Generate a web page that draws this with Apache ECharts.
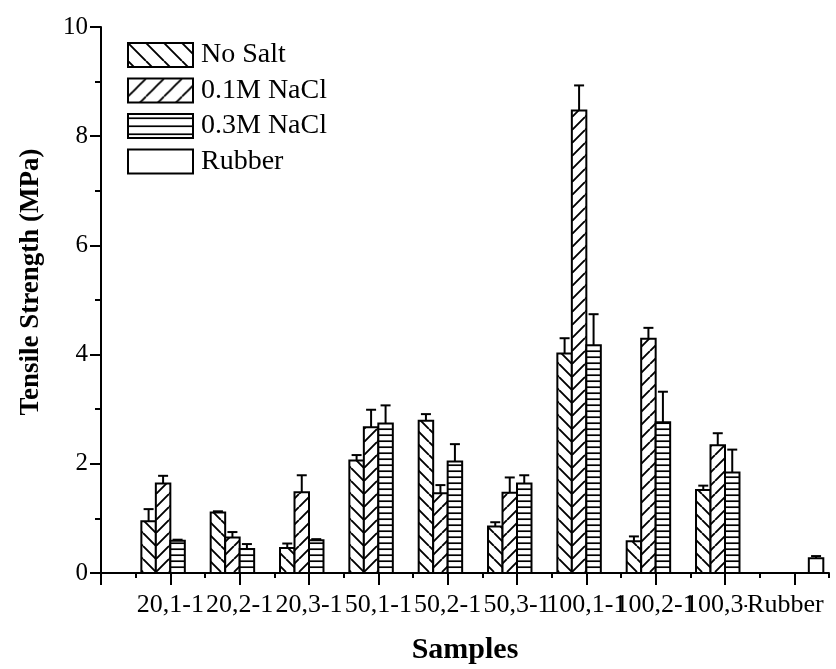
<!DOCTYPE html>
<html>
<head>
<meta charset="utf-8">
<script src="https://cdn.jsdelivr.net/npm/echarts@6/dist/echarts.min.js"></script>
<style>
  html, body { margin: 0; padding: 0; background: #fff; }
  #chart { width: 836px; height: 669px; }
</style>
</head>
<body>
<div id="chart"></div>
<script>
// Sample groups along the x axis
const categories = ['20,1-1', '20,2-1', '20,3-1', '50,1-1', '50,2-1', '50,3-1', '100,1-1', '100,2-1', '100,3-1', 'Rubber'];
const seriesNames = ['No Salt', '0.1M NaCl', '0.3M NaCl', 'Rubber'];

// Tensile strength (MPa) and upper error for each condition
const noSalt     = [0.95, 1.11, 0.46, 2.06, 2.79, 0.85, 4.02, 0.58, 1.52, null];
const noSaltErr  = [0.22, 0.02, 0.08, 0.10, 0.12, 0.08, 0.28, 0.09, 0.08, null];
const nacl01     = [1.64, 0.65, 1.48, 2.67, 1.46, 1.47, 8.47, 4.29, 2.34, null];
const nacl01Err  = [0.14, 0.10, 0.31, 0.32, 0.15, 0.28, 0.46, 0.20, 0.22, null];
const nacl03     = [0.59, 0.44, 0.60, 2.74, 2.04, 1.64, 4.17, 2.76, 1.84, null];
const nacl03Err  = [0.02, 0.09, 0.02, 0.33, 0.32, 0.15, 0.57, 0.56, 0.42, null];
const rubber     = [null, null, null, null, null, null, null, null, null, 0.27];
const rubberErr  = [null, null, null, null, null, null, null, null, null, 0.04];

const yTicks = [0, 2, 4, 6, 8, 10];

const FONT = 'Liberation Serif';
const BAR_FRAC = 0.209;   // width of one bar in category units
const CAP_HALF = 5;       // half width of error-bar caps (px)

// Hatch fills drawn onto small canvases and tiled
function hatch(kind, period, lw) {
  const c = document.createElement('canvas');
  const w = kind === 'horiz' ? 4 : period;
  c.width = w; c.height = period;
  const g = c.getContext('2d');
  g.fillStyle = '#fff';
  g.fillRect(0, 0, w, period);
  g.strokeStyle = '#000';
  g.fillStyle = '#000';
  g.lineWidth = lw;
  if (kind === 'horiz') {
    g.fillRect(0, period / 2 - lw / 2, w, lw);
  } else {
    g.beginPath();
    for (const o of [-period, 0, period]) {
      if (kind === 'back') { g.moveTo(o, 0); g.lineTo(o + period, period); }
      else { g.moveTo(o, period); g.lineTo(o + period, 0); }
    }
    g.stroke();
  }
  return { image: c, repeat: 'repeat' };
}

const barFills = [hatch('back', 13, 1.9), hatch('fwd', 13, 1.9), hatch('horiz', 6.4, 1.7), '#fff'];
const legendFills = [hatch('back', 18, 1.9), hatch('fwd', 18, 1.9), hatch('horiz', 8.5, 1.7), '#fff'];

const values = [noSalt, nacl01, nacl03, rubber];
const errors = [noSaltErr, nacl01Err, nacl03Err, rubberErr];

function buildData(vals, errs) {
  const out = [];
  vals.forEach((v, i) => { if (v != null) out.push([i + 1, v, errs[i] || 0]); });
  return out;
}

function makeRender(slot) {
  return function (params, api) {
    const x = api.value(0), y = api.value(1), e = api.value(2);
    const unit = api.size([1, 0])[0];
    const bw = unit * BAR_FRAC;
    const base = api.coord([x, 0]);
    const top = api.coord([x, y]);
    const left = base[0] - 2 * bw + slot * bw;
    const cx = left + bw / 2;
    const capY = api.coord([x, y + e])[1];
    return {
      type: 'group',
      children: [
        { type: 'rect', shape: { x: left, y: top[1], width: bw, height: base[1] - top[1] },
          style: { fill: barFills[slot], stroke: '#000', lineWidth: 2 } },
        { type: 'line', shape: { x1: cx, y1: top[1], x2: cx, y2: capY },
          style: { stroke: '#000', lineWidth: 2 } },
        { type: 'line', shape: { x1: cx - CAP_HALF, y1: capY, x2: cx + CAP_HALF, y2: capY },
          style: { stroke: '#000', lineWidth: 2 } }
      ]
    };
  };
}

const xMax = categories.length + 0.5;
const majorX = categories.map((_, i) => i);
majorX.push(categories.length);
const minorX = categories.map((_, i) => i + 0.5);
minorX.push(xMax);
// blank end labels at both axis ends keep every sample name visible
const labelX = [0].concat(categories.map((_, i) => i + 1), [xMax]);

const chart = echarts.init(document.getElementById('chart'), null, { renderer: 'canvas' });

chart.setOption({
  animation: false,
  backgroundColor: '#fff',
  textStyle: { fontFamily: FONT, color: '#000' },
  grid: { left: 101, right: 7, top: 27, bottom: 96, containLabel: false, outerBoundsMode: 'none' },
  legend: {
    orient: 'vertical',
    left: 127,
    top: 41,
    padding: 0,
    icon: 'rect',
    itemWidth: 65,
    itemHeight: 24,
    itemGap: 7.5,
    selectedMode: false,
    textStyle: { fontFamily: FONT, fontSize: 28, color: '#000', padding: [0, 0, 0, 3] },
    data: seriesNames.map((n, i) => ({
      name: n,
      itemStyle: { color: legendFills[i], borderColor: '#000', borderWidth: 2 }
    }))
  },
  xAxis: [
    {
      type: 'value',
      min: 0,
      max: xMax,
      name: 'Samples',
      nameLocation: 'middle',
      nameGap: 62,
      nameTextStyle: { fontFamily: FONT, fontWeight: 'bold', fontSize: 30, color: '#000' },
      axisLine: { show: true, onZero: false, lineStyle: { color: '#000', width: 2 } },
      axisTick: { show: true, inside: false, length: 12, customValues: majorX, lineStyle: { color: '#000', width: 2 } },
      axisLabel: {
        show: true, margin: 19, fontSize: 26, fontFamily: FONT, color: '#000',
        hideOverlap: false,
        customValues: labelX,
        formatter: (v) => {
          const i = Math.round(v) - 1;
          if (Math.abs(v - (i + 1)) > 1e-6 || !categories[i]) return '';
          return i === categories.length - 1 ? '{last|' + categories[i] + '}' : categories[i];
        },
        rich: {
          last: {
            fontSize: 26, fontFamily: FONT, color: '#000',
            backgroundColor: '#fff', padding: [0, 18, 0, 0]
          }
        }
      },
      splitLine: { show: false }
    },
    {
      type: 'value',
      position: 'bottom',
      min: 0,
      max: xMax,
      axisLine: { show: false },
      axisTick: { show: true, inside: false, length: 5, customValues: minorX, lineStyle: { color: '#000', width: 2 } },
      axisLabel: { show: false },
      splitLine: { show: false }
    }
  ],
  yAxis: {
    type: 'value',
    min: 0,
    max: 10,
    interval: 2,
    name: 'Tensile Strength (MPa)',
    nameLocation: 'middle',
    nameGap: 56,
    nameTextStyle: { fontFamily: FONT, fontWeight: 'bold', fontSize: 27, color: '#000', padding: [0, 0, 0, 36] },
    axisLine: { show: true, lineStyle: { color: '#000', width: 2 } },
    axisTick: { show: true, inside: false, length: 11, lineStyle: { color: '#000', width: 2 } },
    minorTick: { show: true, splitNumber: 2, length: 6, lineStyle: { color: '#000', width: 2 } },
    axisLabel: {
      margin: 13, fontSize: 25, fontFamily: FONT, color: '#000',
      formatter: (v) => (yTicks.indexOf(v) >= 0 ? String(v) : '')
    },
    splitLine: { show: false }
  },
  series: seriesNames.map((n, i) => ({
    name: n,
    type: 'custom',
    xAxisIndex: 0,
    yAxisIndex: 0,
    renderItem: makeRender(i),
    encode: { x: 0, y: 1 },
    itemStyle: { color: legendFills[i], borderColor: '#000', borderWidth: 2 },
    data: buildData(values[i], errors[i]),
    clip: false,
    silent: true
  }))
});
</script>
</body>
</html>
